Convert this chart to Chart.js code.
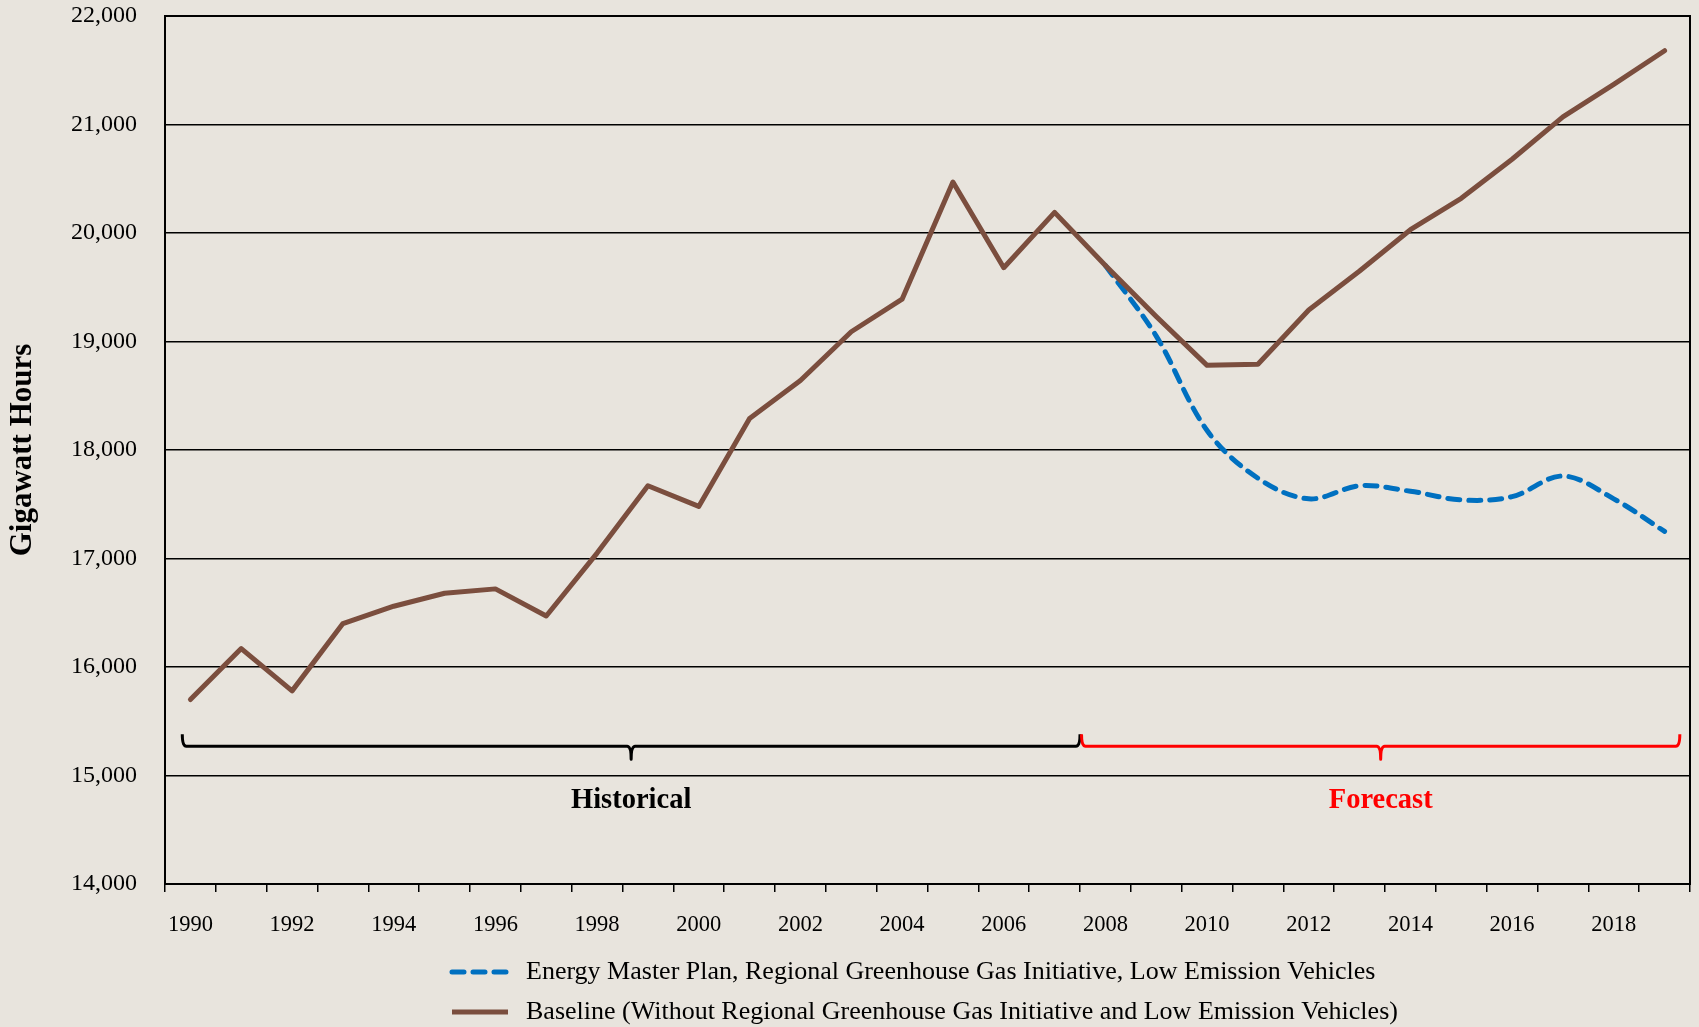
<!DOCTYPE html>
<html>
<head>
<meta charset="utf-8">
<script src="https://cdn.jsdelivr.net/npm/chart.js@4/dist/chart.umd.min.js"></script>
<style>
  html, body { margin: 0; padding: 0; background: #e8e4dd; }
  #wrap { width: 1699px; height: 1027px; position: relative; }
</style>
</head>
<body>
<div id="wrap"><canvas id="gwh-chart"></canvas></div>
<script>
// years on the x axis
const years = ['1990','1991','1992','1993','1994','1995','1996','1997','1998','1999',
  '2000','2001','2002','2003','2004','2005','2006','2007','2008','2009',
  '2010','2011','2012','2013','2014','2015','2016','2017','2018','2019'];

// gigawatt hours
const baseline = [15700, 16170, 15780, 16400, 16560, 16680, 16720, 16470, 17050, 17670,
  17480, 18290, 18640, 19090, 19390, 20470, 19680, 20190, 19700, 19230,
  18780, 18790, 19290, 19650, 20030, 20320, 20680, 21070, 21370, 21680];
const planCase = [null, null, null, null, null, null, null, null, null, null,
  null, null, null, null, null, null, null, null, 19700, 19050,
  18180, 17740, 17550, 17670, 17620, 17540, 17570, 17760, 17550, 17250];

const seriesNames = [
  'Energy Master Plan, Regional Greenhouse Gas Initiative, Low Emission Vehicles',
  'Baseline (Without Regional Greenhouse Gas Initiative and Low Emission Vehicles)'
];

const yTicks = [14000, 15000, 16000, 17000, 18000, 19000, 20000, 21000, 22000];

// brackets under the lines: label, start year, end year, level
const periods = ['Historical', 'Forecast'];
const periodFrom = [1989.84, 2007.53];
const periodTo = [2007.5, 2019.3];
const periodColors = ['#000000', '#ff0000'];
const bracketLevel = 15270;
const labelLevel = 14770;

const bg = '#e8e4dd';
const serif = "'Liberation Serif', 'DejaVu Serif', serif";

const bgPlugin = {
  id: 'bg',
  beforeDraw(chart) {
    const c = chart.ctx;
    c.save();
    c.fillStyle = bg;
    c.fillRect(0, 0, chart.width, chart.height);
    c.restore();
  }
};

const extras = {
  id: 'extras',
  afterDatasetsDraw(chart) {
    const c = chart.ctx;
    const xs = chart.scales.x, ys = chart.scales.y;
    const by = ys.getPixelForValue(bracketLevel);
    const ly = ys.getPixelForValue(labelLevel);
    c.save();
    periods.forEach((name, i) => {
      const x0 = xs.getPixelForValue(periodFrom[i] - 1990);
      const x1 = xs.getPixelForValue(periodTo[i] - 1990);
      const xm = (x0 + x1) / 2;
      c.strokeStyle = periodColors[i];
      c.lineWidth = 3;
      c.lineJoin = 'round';
      c.beginPath();
      c.moveTo(x0, by - 12);
      c.quadraticCurveTo(x0, by, x0 + 4, by);
      c.lineTo(xm - 4, by);
      c.quadraticCurveTo(xm, by, xm, by + 13);
      c.quadraticCurveTo(xm, by, xm + 4, by);
      c.lineTo(x1 - 4, by);
      c.quadraticCurveTo(x1, by, x1, by - 12);
      c.stroke();
      c.fillStyle = periodColors[i];
      c.font = 'bold 28.5px ' + serif;
      c.textAlign = 'center';
      c.textBaseline = 'middle';
      c.fillText(name, xm, ly);
    });
    c.restore();
  },
  afterDraw(chart) {
    const c = chart.ctx;
    const a = chart.chartArea;
    c.save();
    c.strokeStyle = '#000';
    c.lineWidth = 2;
    c.strokeRect(a.left, a.top, a.right - a.left, a.bottom - a.top);
    // legend
    const rows = [972, 1012];
    chart.data.datasets.forEach((ds, i) => {
      c.strokeStyle = ds.borderColor;
      c.lineWidth = 5;
      c.lineCap = ds.borderDash ? 'round' : 'butt';
      c.setLineDash(ds.borderDash || []);
      c.beginPath();
      c.moveTo(452, rows[i]);
      c.lineTo(508, rows[i]);
      c.stroke();
      c.setLineDash([]);
      c.fillStyle = '#000';
      c.font = '26px ' + serif;
      c.textAlign = 'left';
      c.textBaseline = 'middle';
      c.fillText(ds.label, 526, rows[i]);
    });
    c.restore();
  }
};

const ctx = document.getElementById('gwh-chart');
const chart = new Chart(ctx, {
  type: 'line',
  data: {
    labels: years,
    datasets: [{
      label: seriesNames[0],
      data: planCase,
      borderColor: '#0070c0',
      borderWidth: 5,
      borderDash: [12, 9],
      borderCapStyle: 'round',
      tension: 0.35,
      pointRadius: 0,
      order: 1
    }, {
      label: seriesNames[1],
      data: baseline,
      borderColor: '#7b4e3e',
      borderWidth: 5,
      borderCapStyle: 'round',
      borderJoinStyle: 'round',
      tension: 0,
      pointRadius: 0,
      order: 0
    }]
  },
  options: {
    responsive: true,
    maintainAspectRatio: false,
    animation: false,
    layout: { padding: { top: 16, right: 9, left: 0, bottom: 0 } },
    plugins: {
      legend: { display: false },
      tooltip: { enabled: false }
    },
    scales: {
      x: {
        type: 'category',
        offset: true,
        grid: { offset: true, drawOnChartArea: false, drawTicks: true, tickLength: 8, color: '#000', lineWidth: 1.5 },
        border: { display: true, color: '#000', width: 2 },
        ticks: {
          autoSkip: false,
          maxRotation: 0,
          padding: 20,
          color: '#000',
          font: { family: serif, size: 22.5 },
          callback: (v, i) => (i % 2 === 0 ? years[i] : '')
        },
        afterFit: s => { s.height = 143; s.paddingLeft = 0; s.paddingRight = 0; }
      },
      y: {
        min: yTicks[0],
        max: yTicks[yTicks.length - 1],
        afterBuildTicks: s => { s.ticks = yTicks.map(v => ({ value: v })); },
        grid: { color: '#000', lineWidth: 1.5, drawTicks: false },
        border: { display: true, color: '#000', width: 2 },
        ticks: {
          padding: 28,
          color: '#000',
          font: { family: serif, size: 24 },
          callback: v => v.toLocaleString('en-US')
        },
        title: {
          display: true,
          text: 'Gigawatt Hours',
          color: '#000',
          font: { family: serif, size: 31, weight: 'bold' },
          padding: { top: 4, bottom: 0 }
        },
        afterFit: s => { s.width = 165; s.paddingTop = 0; s.paddingBottom = 0; }
      }
    }
  },
  plugins: [bgPlugin, extras]
});
</script>
</body>
</html>
